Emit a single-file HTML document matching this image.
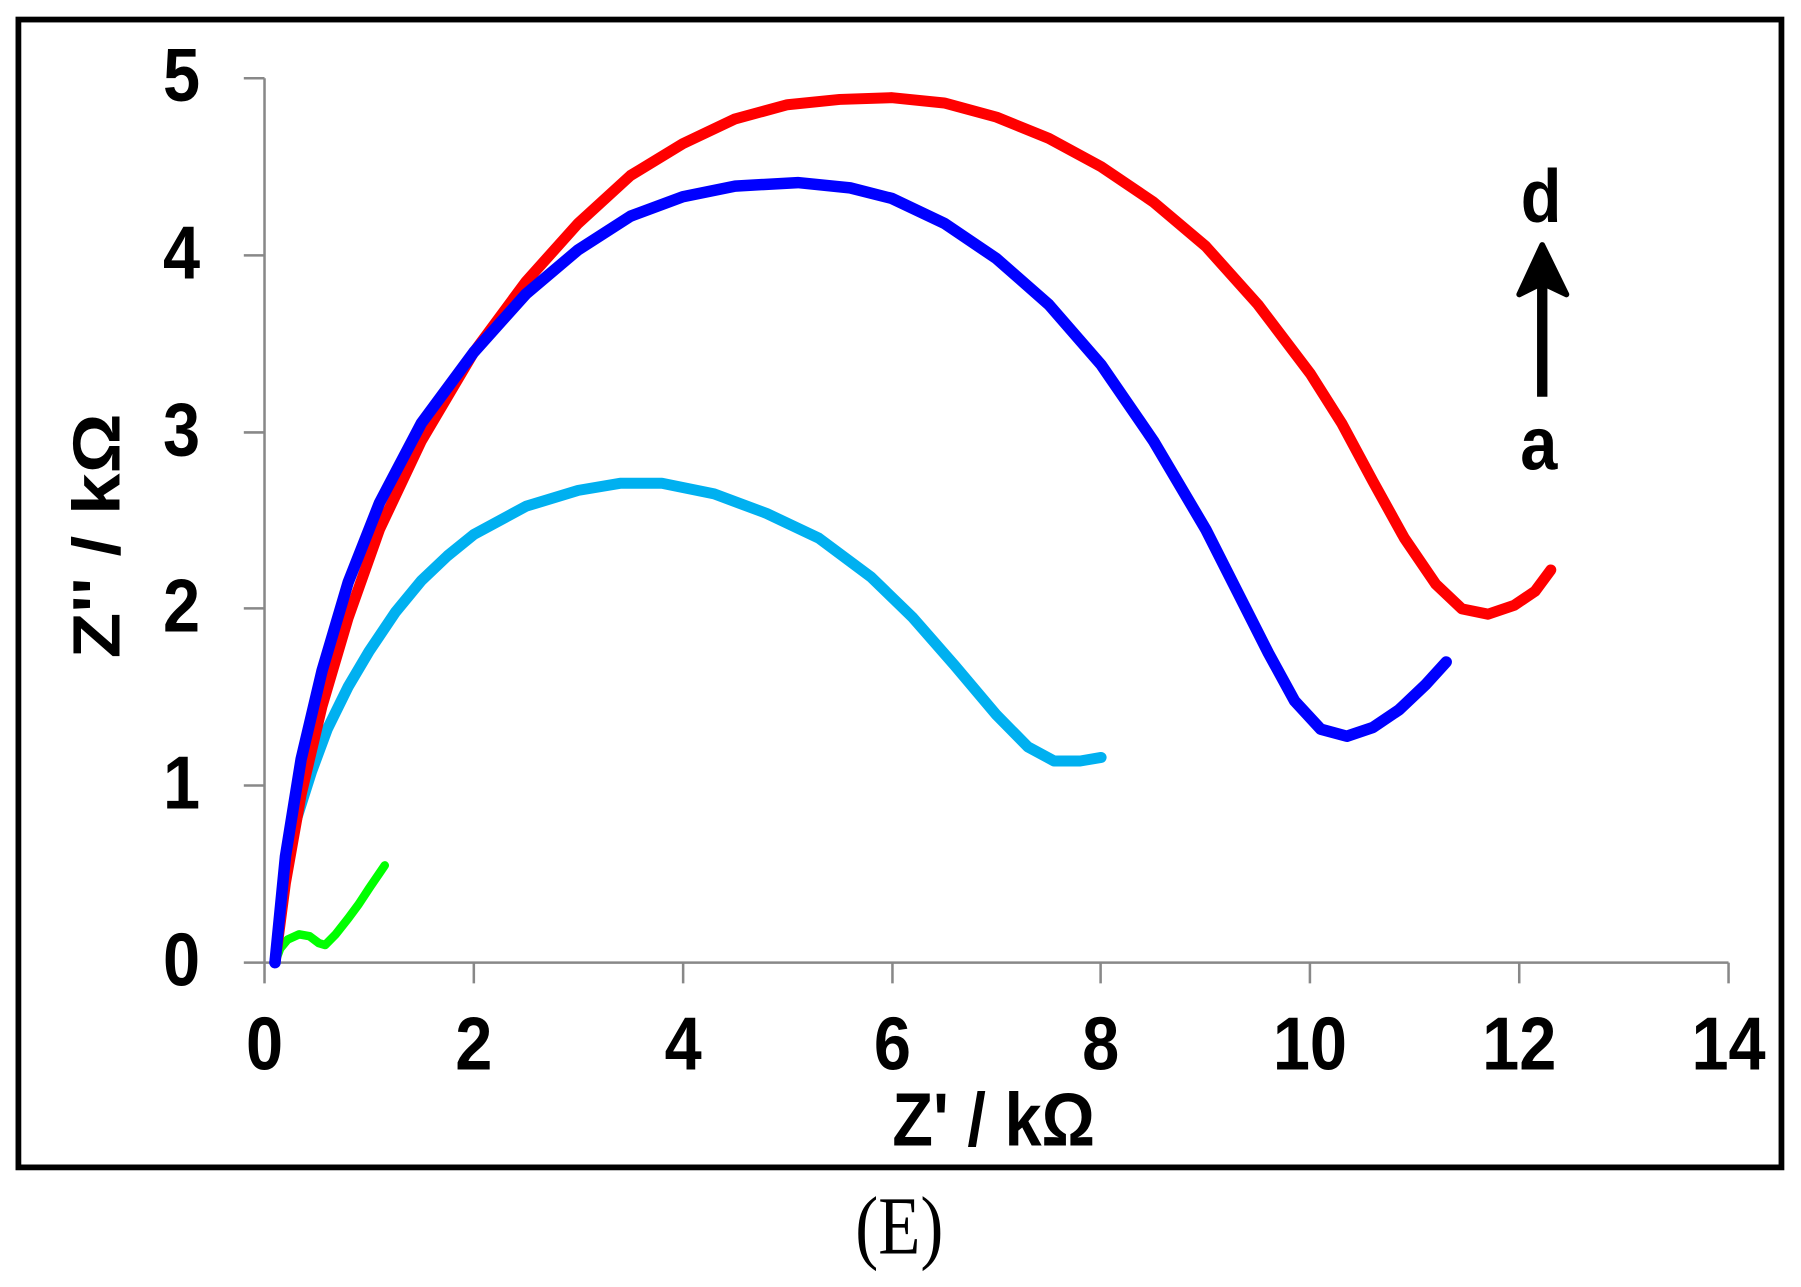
<!DOCTYPE html>
<html><head><meta charset="utf-8"><style>html,body{margin:0;padding:0;background:#fff}svg{display:block}</style></head>
<body>
<svg width="1801" height="1287" viewBox="0 0 1566 1119" preserveAspectRatio="none" xmlns="http://www.w3.org/2000/svg">
<rect x="0" y="0" width="1566" height="1119" fill="#fff"/>
<rect x="16" y="17" width="1533" height="998" fill="none" stroke="#000" stroke-width="5"/>
<g stroke="#888" stroke-width="2.2" fill="none">
<line x1="230" y1="68" x2="230" y2="855"/>
<line x1="212" y1="837" x2="1503" y2="837"/>
<line x1="212" y1="68" x2="230" y2="68"/>
<line x1="212" y1="222" x2="230" y2="222"/>
<line x1="212" y1="376" x2="230" y2="376"/>
<line x1="212" y1="529" x2="230" y2="529"/>
<line x1="212" y1="683" x2="230" y2="683"/>
<line x1="412" y1="837" x2="412" y2="855"/>
<line x1="594" y1="837" x2="594" y2="855"/>
<line x1="776" y1="837" x2="776" y2="855"/>
<line x1="957" y1="837" x2="957" y2="855"/>
<line x1="1139" y1="837" x2="1139" y2="855"/>
<line x1="1321" y1="837" x2="1321" y2="855"/>
<line x1="1503" y1="837" x2="1503" y2="855"/>
</g>
<g font-family="Liberation Sans, Arial, sans-serif" font-weight="bold" font-size="58" fill="#000">
<g text-anchor="end">
<text transform="translate(174,88) scale(1,1.12)">5</text>
<text transform="translate(174,242) scale(1,1.12)">4</text>
<text transform="translate(174,396) scale(1,1.12)">3</text>
<text transform="translate(174,549) scale(1,1.12)">2</text>
<text transform="translate(174,703) scale(1,1.12)">1</text>
<text transform="translate(174,857) scale(1,1.12)">0</text>
</g>
<g text-anchor="middle">
<text transform="translate(230,930) scale(1,1.12)">0</text>
<text transform="translate(412,930) scale(1,1.12)">2</text>
<text transform="translate(594,930) scale(1,1.12)">4</text>
<text transform="translate(776,930) scale(1,1.12)">6</text>
<text transform="translate(957,930) scale(1,1.12)">8</text>
<text transform="translate(1139,930) scale(1,1.12)">10</text>
<text transform="translate(1321,930) scale(1,1.12)">12</text>
<text transform="translate(1503,930) scale(1,1.12)">14</text>
<text transform="translate(864,996) scale(1,1.12)">Z' / kΩ</text>
<text transform="translate(104,466) rotate(-90) scale(1.12,1)">Z'' / kΩ</text>
<text transform="translate(1340,193) scale(1,1.12)">d</text>
<text transform="translate(1338,408) scale(1,1.12)">a</text>
</g>
</g>
<text transform="translate(782,1090) scale(1,1.2)" text-anchor="middle" font-family="Liberation Serif, serif" font-size="60" fill="#000">(E)</text>
<line x1="1341" y1="345" x2="1341" y2="240" stroke="#000" stroke-width="9"/>
<path d="M1341,213 L1362,256 L1341,246 L1321,256 Z" fill="#000" stroke="#000" stroke-width="5" stroke-linejoin="round"/>
<g fill="none" stroke-linejoin="round" stroke-linecap="round" transform="translate(230,837) scale(90.93,-153.8)">
<polyline vector-effect="non-scaling-stroke" stroke="#00ff00" stroke-width="8.5" points="0.1,0 0.15,0.08 0.22,0.13 0.33,0.16 0.43,0.15 0.52,0.11 0.58,0.1 0.68,0.16 0.8,0.25 0.9,0.33 1.0,0.42 1.15,0.55"/>
<polyline vector-effect="non-scaling-stroke" stroke="#00b0f0" stroke-width="11" points="0.1,0 0.18,0.45 0.3,0.8 0.45,1.08 0.6,1.32 0.8,1.56 1,1.76 1.25,1.98 1.5,2.16 1.75,2.3 2,2.42 2.5,2.58 3,2.67 3.4,2.71 3.8,2.71 4.3,2.65 4.8,2.54 5.3,2.4 5.8,2.18 6.2,1.95 6.6,1.68 7,1.4 7.3,1.22 7.55,1.14 7.8,1.14 8,1.16"/>
<polyline vector-effect="non-scaling-stroke" stroke="#ff0000" stroke-width="11" points="0.1,0 0.2,0.45 0.35,0.95 0.55,1.45 0.8,1.95 1.1,2.45 1.5,2.95 2,3.45 2.5,3.85 3,4.18 3.5,4.45 4,4.63 4.5,4.77 5,4.85 5.5,4.88 6,4.89 6.5,4.86 7,4.78 7.5,4.66 8,4.5 8.5,4.3 9,4.05 9.5,3.72 10,3.33 10.3,3.05 10.6,2.72 10.9,2.4 11.2,2.14 11.45,2.0 11.7,1.97 11.95,2.02 12.15,2.1 12.3,2.22"/>
<polyline vector-effect="non-scaling-stroke" stroke="#0000ff" stroke-width="11.5" points="0.1,0 0.2,0.6 0.35,1.15 0.55,1.65 0.8,2.15 1.1,2.6 1.5,3.05 2,3.45 2.5,3.78 3,4.03 3.5,4.22 4,4.33 4.5,4.39 5.1,4.41 5.6,4.38 6,4.32 6.5,4.18 7,3.98 7.5,3.72 8,3.38 8.5,2.95 9,2.45 9.3,2.1 9.6,1.75 9.85,1.48 10.1,1.32 10.35,1.28 10.6,1.33 10.85,1.43 11.1,1.57 11.3,1.7"/>
</g>
</svg>
</body></html>
